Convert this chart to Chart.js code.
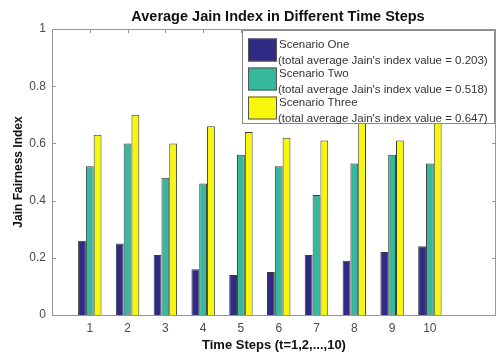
<!DOCTYPE html>
<html>
<head>
<meta charset="utf-8">
<script src="https://cdn.jsdelivr.net/npm/chart.js@4/dist/chart.umd.min.js"></script>
<style>
  html, body { margin: 0; padding: 0; background: #fff; }
  #wrap { width: 498px; height: 354px; position: relative; }
</style>
</head>
<body>
<div id="wrap"><canvas id="c" width="498" height="354"></canvas></div>
<script>
// ---- data ----
const timeSteps = [1, 2, 3, 4, 5, 6, 7, 8, 9, 10];
const scenarioOne = [0.26, 0.25, 0.21, 0.16, 0.14, 0.15, 0.21, 0.19, 0.22, 0.24];
const scenarioTwo = [0.52, 0.60, 0.48, 0.46, 0.56, 0.52, 0.42, 0.53, 0.56, 0.53];
const scenarioThree = [0.63, 0.70, 0.60, 0.66, 0.64, 0.62, 0.61, 0.70, 0.61, 0.70];
const seriesNames = ['Scenario One', 'Scenario Two', 'Scenario Three'];
const seriesAverages = ['0.203', '0.518', '0.647'];
const yTicks = [0, 0.2, 0.4, 0.6, 0.8, 1];

const chartTitle = 'Average Jain Index in Different Time Steps';
const xTitle = 'Time Steps (t=1,2,...,10)';
const yTitle = 'Jain Fairness Index';

const colors = ['#2f2b85', '#36b89c', '#f7f70c'];
const FONT = 'Liberation Sans, Arial, Helvetica, sans-serif';
const AXIS_COLOR = '#959595';
const TEXT_COLOR = '#4a4a4a';

const toPts = arr => timeSteps.map((t, i) => ({ x: t, y: arr[i] }));
const seriesData = [scenarioOne, scenarioTwo, scenarioThree];

const framePlugin = {
  id: 'frame',
  afterDatasetsDraw(chart) {
    const { ctx, chartArea: a, scales: { x, y } } = chart;
    ctx.save();
    ctx.strokeStyle = AXIS_COLOR;
    ctx.lineWidth = 1;
    ctx.strokeRect(Math.round(a.left) + 0.5, Math.round(a.top) + 0.5,
                   Math.round(a.right - a.left) - 1, Math.round(a.bottom - a.top));
    const L = 4;
    ctx.beginPath();
    timeSteps.forEach(t => {
      const px = Math.round(x.getPixelForValue(t)) + 0.5;
      ctx.moveTo(px, a.bottom); ctx.lineTo(px, a.bottom - L);
      ctx.moveTo(px, a.top); ctx.lineTo(px, a.top + L);
    });
    yTicks.forEach(v => {
      const py = Math.round(y.getPixelForValue(v)) + 0.5;
      ctx.moveTo(a.left, py); ctx.lineTo(a.left + L, py);
      ctx.moveTo(a.right, py); ctx.lineTo(a.right - L, py);
    });
    ctx.stroke();

    // legend box (opaque, drawn over bars)
    const bx = 242, by = Math.round(a.top) + 1.5, bw = Math.round(a.right) - bx - 2, bh = 93;
    ctx.fillStyle = '#ffffff';
    ctx.fillRect(bx, by, bw, bh);
    ctx.strokeStyle = '#8a8a8a';
    ctx.strokeRect(bx + 0.5, by, bw, bh);
    ctx.font = '11.5px ' + FONT;
    ctx.textBaseline = 'middle';
    ctx.textAlign = 'left';
    seriesNames.forEach((name, i) => {
      const top = by + 8 + i * 29;
      ctx.fillStyle = colors[i];
      ctx.fillRect(bx + 6, top, 29, 23);
      ctx.strokeStyle = '#555';
      ctx.strokeRect(bx + 6.5, top + 0.5, 28, 22);
      ctx.fillStyle = '#333';
      ctx.fillText(name, bx + 37, top + 6);
      ctx.fillText("(total average Jain's index value = " + seriesAverages[i] + ')', bx + 36, top + 22);
    });

    // main title
    ctx.font = 'bold 14.5px ' + FONT;
    ctx.fillStyle = '#111';
    ctx.textAlign = 'center';
    ctx.fillText(chartTitle, (a.left + a.right) / 2 + 4, 17);
    ctx.restore();
  }
};

new Chart(document.getElementById('c'), {
  type: 'bar',
  data: {
    datasets: seriesNames.map((n, i) => ({
      label: n,
      data: toPts(seriesData[i]),
      backgroundColor: colors[i],
      borderColor: '#3c3c3c',
      borderWidth: 1,
      categoryPercentage: 0.62,
      barPercentage: 1.0
    }))
  },
  options: {
    responsive: false,
    animation: false,
    devicePixelRatio: 1,
    layout: { padding: { top: 29, right: 2, left: 0, bottom: 0 } },
    plugins: { legend: { display: false }, title: { display: false }, tooltip: { enabled: false } },
    scales: {
      x: {
        type: 'linear',
        min: 0,
        max: 11.75,
        offset: false,
        grid: { display: false, drawTicks: false },
        border: { display: false },
        afterBuildTicks: s => { s.ticks = timeSteps.map(v => ({ value: v })); },
        afterFit: s => { s.height = 39; },
        ticks: {
          autoSkip: false, maxRotation: 0,
          padding: 6,
          color: TEXT_COLOR,
          font: { family: FONT, size: 12 },
          callback: v => String(v)
        },
        title: {
          display: true, text: xTitle, color: '#111',
          font: { family: FONT, size: 13, weight: 'bold' },
          padding: { top: 0, bottom: 1 }
        }
      },
      y: {
        min: 0, max: 1,
        grid: { display: false, drawTicks: false },
        border: { display: false },
        afterBuildTicks: s => { s.ticks = yTicks.map(v => ({ value: v })); },
        afterFit: s => { s.width = 52; },
        ticks: {
          padding: 6,
          color: TEXT_COLOR,
          font: { family: FONT, size: 12 },
          callback: v => String(v)
        },
        title: {
          display: true, text: yTitle, color: '#111',
          font: { family: FONT, size: 12, weight: 'bold' },
          padding: { top: 11, bottom: 0 }
        }
      }
    }
  },
  plugins: [framePlugin]
});
</script>
</body>
</html>
